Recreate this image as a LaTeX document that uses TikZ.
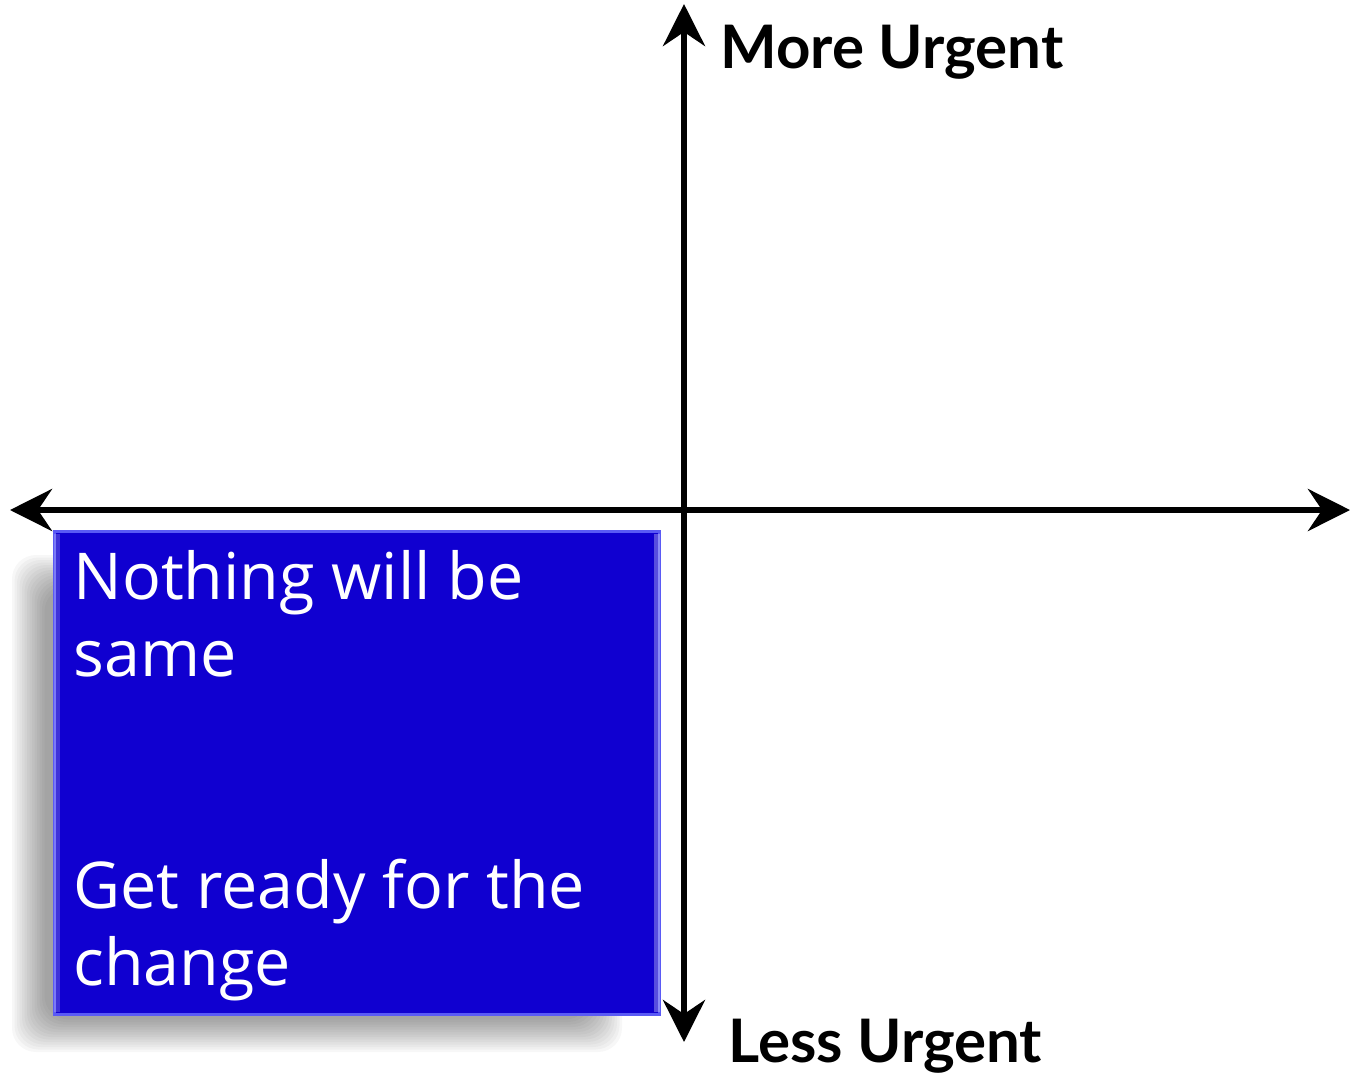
\documentclass[tikz,border=0pt]{standalone}
\usepackage{fontspec}
\setmainfont{Open Sans}
\newfontfamily\axisfont{Lato}
\usetikzlibrary{arrows.meta}
\definecolor{boxblue}{HTML}{1000D0}
\definecolor{edgeblue}{HTML}{5A5AF5}
\tikzset{
  axis/.style={line width=3pt, {Stealth[length=21pt,width=21pt,inset=7pt]}-{Stealth[length=21pt,width=21pt,inset=7pt]}},
  axislabel/.style={anchor=base west, inner sep=0pt, font=\axisfont\bfseries\fontsize{30}{34}\selectfont},
  quadbox/.style={fill=boxblue, draw=edgeblue, line width=1.5pt, inner sep=0pt},
  bevel/.style={white, opacity=0.3, line width=3pt},
}
\begin{document}
\begin{tikzpicture}[x=0.5pt,y=-0.5pt]
\useasboundingbox (0,0) rectangle (1350,1073);
% shadow
\foreach \k in {0,...,13}{
  \fill[black, opacity=0.033, rounded corners=12pt]
    (12+2.5*\k,555+2.5*\k) rectangle (622-2.5*\k,1052-2.5*\k);
}
% box
\node[quadbox, minimum width=302.5pt, minimum height=241.5pt, anchor=north west] (box) at (53,530) {};
\draw[bevel] ([xshift=-2pt,yshift=-2pt]box.north east) -- ([xshift=-2pt,yshift=2pt]box.south east);
\draw[bevel, opacity=0.2] ([xshift=2pt,yshift=-2pt]box.north west) -- ([xshift=2pt,yshift=2pt]box.south west);
\node[anchor=north west, text=white, align=left, inner sep=0pt,
      font=\fontsize{32.3}{38.6}\selectfont] (txt) at (73,550)
  {Nothing will be\\same\\\mbox{}\\\mbox{}\\Get ready for the\\change};
% axes
\coordinate (L) at (10,510);
\coordinate (R) at (1350,510);
\coordinate (T) at (684,4);
\coordinate (B) at (684,1042);
\draw[axis] (L) -- (R);
\draw[axis] (B) -- (T);
\node[axislabel] (more) at (720,68) {More Urgent};
\node[axislabel] (less) at (728,1062) {Less Urgent};
\end{tikzpicture}
\end{document}
